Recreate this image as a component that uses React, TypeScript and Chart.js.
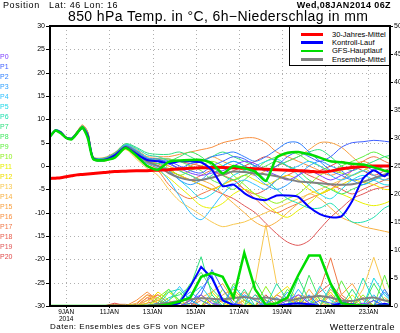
import React, { useEffect, useRef } from "react";
import { Chart, registerables } from "chart.js";

Chart.register(...registerables);

// forecast hours from 08JAN2014 06Z
const HOURS = [0, 6, 12, 18, 24, 30, 36, 42, 48, 60, 72, 84, 96, 108, 120, 132, 144, 156, 168, 180, 192, 204, 216, 228, 240, 252, 264, 276, 288, 300, 312, 324, 336, 348, 360, 372, 384];
const X_MIN = 0;
const X_MAX = 378;
const TICK_HOURS = [18, 66, 114, 162, 210, 258, 306, 354];
const TICK_LABELS = ["9JAN", "11JAN", "13JAN", "15JAN", "17JAN", "19JAN", "21JAN", "23JAN"];
const YEAR_LABEL = "2014";

const MEMBER_NAMES = ["P0", "P1", "P2", "P3", "P4", "P5", "P6", "P7", "P8", "P9", "P10", "P11", "P12", "P13", "P14", "P15", "P16", "P17", "P18", "P19", "P20"];
const MEMBER_COLORS = ["#7b3fff", "#3f5fff", "#2f7fff", "#2fa0ff", "#30c0ff", "#20d8e8", "#20e0b0", "#30e080", "#40e860", "#60f040", "#90f020", "#e8f000", "#f0e000", "#f8c850", "#f8b040", "#f8a040", "#f89040", "#f07848", "#e86050", "#e05858", "#e04848"];

const LEGEND_LABELS = ["30-Jahres-Mittel", "Kontroll-Lauf", "GFS-Hauptlauf", "Ensemble-Mittel"];
const CLIM_COLOR = "#ff0000";
const CTRL_COLOR = "#0000ff";
const GFS_COLOR = "#00dd00";
const MEAN_COLOR = "#808080";

// 850 hPa temperature (°C)
const CLIM_T = [-2.7, -2.6, -2.5, -2.3, -2.1, -1.9, -1.8, -1.7, -1.6, -1.4, -1.2, -1.1, -1.0, -1.0, -0.9, -0.8, -0.6, -0.5, -0.4, -0.3, -0.3, -0.4, -0.5, -0.6, -0.7, -0.8, -0.9, -1.0, -1.1, -1.3, -1.1, -0.6, -0.3, -0.1, 0.0, 0.0, 0.0];
const CTRL_T = [6.3, 7.6, 7.2, 6.0, 5.8, 7.0, 8.2, 6.5, 1.6, 1.3, 2.3, 4.0, 2.6, 1.3, 1.0, 0.6, 1.0, 1.0, 0.8, -0.8, -4.3, -4.0, -5.8, -7.0, -7.3, -6.3, -6.3, -6.6, -8.8, -10.3, -11.0, -10.8, -7.5, -2.7, -0.9, -2.2, 0.5];
const GFS_T = [6.3, 7.6, 7.0, 6.0, 5.7, 7.0, 8.3, 6.0, 1.5, 1.2, 1.8, 3.9, 2.2, 0.0, -0.8, 0.9, 1.2, 1.3, 1.3, 0.6, -1.6, 0.0, -0.5, -1.2, -3.2, 1.8, 2.8, 3.0, 2.5, 1.8, 1.0, 0.8, 0.5, 0.3, -0.3, -1.0, -1.4];
const MEAN_T = [6.3, 7.6, 7.2, 6.1, 5.9, 7.1, 8.3, 6.7, 1.7, 1.4, 2.4, 4.1, 2.8, 1.0, 0.0, -1.5, -2.5, -3.0, -3.0, -2.5, -1.8, -1.2, -1.3, -1.6, -1.8, -2.2, -2.8, -3.3, -3.5, -3.7, -3.9, -4.0, -3.9, -3.4, -2.6, -1.8, -1.3];

const P0_T = [6.3, 7.5, 7.1, 6.1, 5.9, 7.2, 8.4, 6.8, 1.5, 1.2, 2.4, 4.2, 2.9, 1.3, 1.0, 0.5, -0.5, -1.5, -2.0, -1.5, -1.0, 0.0, 1.0, 0.5, -1.0, -2.0, -3.0, -2.0, -1.0, -2.0, -3.0, -2.0, -1.0, 0.0, -1.0, -2.0, -1.5];
const P1_T = [6.3, 7.7, 7.3, 6.0, 5.7, 6.9, 8.1, 6.3, 1.7, 1.4, 2.2, 3.8, 2.5, 1.2, 1.2, 1.0, 0.0, -1.0, -1.5, 0.0, 1.0, 2.0, 1.5, 0.0, -1.0, 0.0, 2.0, 3.0, 2.0, 1.0, 2.0, 4.0, 5.0, 5.2, 5.5, 5.3, 5.0];
const P2_T = [6.3, 7.6, 7.2, 6.2, 6.0, 7.1, 8.3, 6.6, 1.8, 1.5, 2.5, 4.3, 3.2, 1.6, 1.5, 0.5, -0.5, 0.5, 1.0, 2.0, 2.5, 3.0, 2.0, 1.0, 2.0, 3.5, 5.0, 5.0, 3.0, 1.0, -1.0, -2.0, -3.0, -2.5, -1.0, 0.0, 0.5];
const P3_T = [6.3, 7.5, 7.0, 5.9, 5.8, 7.0, 8.0, 6.4, 1.5, 1.1, 2.1, 3.9, 2.4, 0.5, 0.0, -1.0, -3.0, -4.0, -3.0, -1.0, 0.0, 1.0, 0.0, -2.0, -4.0, -5.0, -4.0, -2.0, 0.0, 1.0, 0.0, -1.0, -3.0, -4.0, -3.0, -2.0, -2.5];
const P4_T = [6.3, 7.6, 7.2, 6.1, 5.9, 7.2, 8.5, 6.9, 1.9, 1.6, 2.6, 4.4, 3.0, 1.1, -0.5, -3.0, -6.5, -10.0, -11.5, -9.0, -6.0, -4.0, -3.0, -4.0, -5.0, -3.0, -1.0, 0.0, 1.0, 0.0, -2.0, -3.0, -2.0, -1.0, -2.0, -3.0, -2.0];
const P5_T = [6.3, 7.8, 7.4, 6.2, 6.1, 7.3, 8.6, 7.0, 1.7, 1.3, 2.4, 4.5, 3.4, 1.8, 1.0, -1.0, -3.0, -5.0, -7.0, -6.0, -4.0, -2.0, -1.0, 0.0, 1.0, 1.5, 0.0, -2.0, -4.0, -6.0, -7.0, -5.0, -3.0, -2.0, -3.0, -4.0, -4.0];
const P6_T = [6.3, 7.6, 7.1, 6.0, 5.8, 7.0, 8.2, 6.5, 1.6, 1.4, 2.5, 4.6, 3.8, 2.4, 2.0, 1.0, -1.0, -2.0, -3.0, -2.0, 0.0, 1.0, 0.0, -1.0, -3.0, -5.0, -7.0, -8.0, -9.0, -9.0, -8.0, -10.0, -12.0, -12.0, -11.0, -9.0, -8.0];
const P7_T = [6.3, 7.7, 7.3, 6.1, 5.9, 7.1, 8.3, 6.7, 1.9, 1.7, 2.8, 4.8, 4.0, 2.8, 2.5, 2.5, 3.0, 2.0, 1.0, 2.0, 3.0, 2.0, 1.0, 0.0, -1.0, 0.0, 1.0, 2.0, 3.0, 3.5, 2.0, 0.0, -1.0, 0.0, 1.0, 2.0, 2.5];
const P8_T = [6.3, 7.5, 7.2, 6.0, 5.7, 6.9, 8.0, 6.2, 1.4, 1.1, 2.0, 3.7, 2.2, 1.0, 0.5, 1.0, 2.0, 3.0, 2.0, 0.0, -2.0, -3.0, -2.0, -1.0, 0.0, 1.0, 0.0, -1.0, -3.0, -4.0, -5.0, -6.0, -5.0, -4.0, -3.0, -2.0, -1.0];
const P9_T = [6.3, 7.6, 7.3, 6.1, 6.0, 7.2, 8.4, 6.8, 1.8, 1.5, 2.6, 4.3, 3.1, 1.5, 1.5, 1.5, 1.0, 0.0, -1.0, -3.0, -4.0, -5.0, -3.0, -1.0, 1.0, 2.0, 3.0, 2.5, 1.0, 0.0, -1.0, 0.0, 1.0, 2.0, 3.0, 2.0, 1.0];
const P10_T = [6.3, 7.4, 7.0, 5.9, 5.7, 6.8, 7.9, 6.1, 1.5, 1.2, 2.2, 3.9, 2.6, 0.8, 0.0, -0.5, -2.0, -1.0, 0.0, 1.0, 0.0, -2.0, -4.0, -6.0, -7.0, -8.0, -7.0, -6.0, -4.0, -2.0, -1.0, -1.5, -2.0, -1.0, 0.0, -1.0, -2.0];
const P11_T = [6.3, 7.5, 7.1, 6.0, 5.8, 7.0, 8.1, 6.4, 1.6, 1.2, 2.1, 3.6, 1.8, 0.2, -1.0, -2.5, -4.5, -6.5, -8.5, -9.0, -8.0, -6.0, -5.0, -6.0, -8.0, -10.0, -11.0, -9.5, -8.0, -6.0, -5.0, -6.0, -7.0, -8.0, -8.5, -8.0, -7.0];
const P12_T = [6.3, 7.6, 7.2, 6.1, 5.9, 7.1, 8.2, 6.6, 1.7, 1.4, 2.4, 4.1, 2.7, 0.9, 0.0, -1.0, -2.0, -3.0, -4.0, -5.0, -4.0, -3.0, -2.0, -3.0, -4.0, -3.0, -2.0, -3.0, -5.0, -6.0, -5.0, -4.0, -3.0, -3.5, -4.0, -5.0, -5.0];
const P13_T = [6.3, 7.7, 7.2, 6.0, 5.8, 7.0, 8.3, 6.6, 1.5, 1.0, 1.9, 3.5, 1.5, -0.5, -2.0, -5.0, -7.5, -9.0, -10.5, -12.0, -13.0, -12.5, -12.0, -11.0, -10.0, -9.0, -8.0, -7.0, -6.0, -5.0, -4.0, -3.0, -2.0, -1.0, 0.0, 0.0, -0.5];
const P14_T = [6.3, 7.6, 7.3, 6.2, 6.0, 7.3, 8.7, 7.2, 1.8, 1.4, 2.5, 4.2, 2.8, 1.2, 0.5, 0.0, -1.0, -2.0, -3.0, -4.0, -6.0, -8.0, -10.0, -12.0, -13.0, -12.0, -10.0, -8.0, -6.0, -7.0, -9.0, -11.0, -12.0, -13.0, -13.5, -14.0, -14.5];
const P15_T = [6.3, 7.5, 7.1, 6.0, 5.8, 7.1, 8.4, 6.8, 1.6, 1.3, 2.3, 4.0, 2.9, 1.4, 1.5, 0.0, -1.0, 0.0, 1.0, 2.0, 1.0, 0.0, -1.0, -2.0, -1.0, 0.0, 1.0, 2.0, 3.5, 5.0, 5.0, 4.0, 2.0, 0.0, -2.0, -3.0, -3.0];
const P16_T = [6.3, 7.7, 7.4, 6.2, 6.1, 7.4, 8.8, 7.3, 2.0, 1.8, 2.9, 4.7, 3.6, 2.0, 2.0, 2.0, 2.5, 3.0, 3.5, 4.0, 5.0, 5.5, 6.0, 6.0, 5.0, 3.0, 2.0, 1.0, 0.0, -1.0, -2.0, -1.0, 0.0, 1.0, 0.0, -1.0, -2.0];
const P17_T = [6.3, 7.6, 7.2, 6.1, 5.9, 7.2, 8.6, 7.0, 1.7, 1.3, 2.2, 3.8, 2.0, 0.0, -1.0, -4.0, -6.0, -7.0, -6.0, -5.0, -4.0, -3.0, -5.0, -7.0, -9.0, -10.0, -9.0, -8.0, -7.0, -6.0, -5.0, -3.0, -1.0, 1.0, 2.0, 1.0, 0.0];
const P18_T = [6.3, 7.5, 7.1, 6.0, 5.8, 7.1, 8.5, 6.9, 1.6, 1.2, 2.3, 4.0, 2.5, 0.6, -0.5, -1.0, -2.0, -3.0, -2.0, -1.0, -2.0, -3.0, -5.0, -6.0, -5.0, -3.0, -2.0, -1.0, -2.0, -3.0, -4.0, -5.0, -6.0, -5.0, -4.0, -3.0, -2.0];
const P19_T = [6.3, 7.6, 7.2, 6.1, 5.9, 7.2, 8.6, 7.1, 1.8, 1.5, 2.5, 4.4, 3.0, 1.0, 0.5, -1.0, -2.0, -3.0, -4.0, -5.0, -6.0, -7.0, -8.5, -10.0, -12.3, -14.5, -16.3, -17.0, -16.0, -13.5, -11.0, -9.0, -7.0, -6.0, -5.0, -4.5, -4.0];
const P20_T = [6.3, 7.6, 7.3, 6.1, 6.0, 7.3, 8.7, 7.2, 1.9, 1.6, 2.7, 4.5, 3.3, 1.7, 1.5, 1.5, 1.0, 0.5, 0.0, -1.0, -2.0, -1.0, 0.0, 1.0, 2.0, 1.0, 0.0, -1.0, -1.5, -1.0, 0.0, 1.0, 0.0, -1.0, -2.0, -1.0, 0.0];

// 6h precipitation (mm)
const CTRL_P = [0, 0, 0, 0, 0, 0, 0, 0, 0, 0, 0, 0, 0, 0, 0, 0, 0.5, 3.5, 7.0, 5.0, 1.0, 0.2, 0, 0, 0, 0, 0.3, 0.5, 0.3, 0, 0, 0.5, 0.3, 0, 0, 0.4, 0];
const GFS_P = [0, 0, 0, 0, 0, 0, 0, 0, 0, 0, 0, 0, 0, 0, 0, 0.3, 0.8, 1.5, 5.2, 5.9, 5.2, 1.5, 9.5, 3.0, 0.2, 0.5, 1.5, 5.5, 9.0, 9.0, 4.0, 0.5, 0.2, 0.1, 0, 0, 0];
const MEAN_P = [0, 0, 0, 0, 0, 0, 0, 0, 0, 0, 0, 0, 0, 0.1, 0.3, 0.6, 0.9, 1.2, 1.4, 1.3, 1.2, 1.4, 1.6, 1.3, 1.5, 1.2, 1.0, 1.3, 1.6, 1.8, 1.5, 1.0, 0.9, 1.3, 1.5, 1.0, 0.8];

const P0_P = [0, 0, 0, 0, 0, 0, 0, 0, 0, 0, 0, 0, 0, 0, 0, 0, 0, 1, 2, 0.5, 0, 0, 0, 0, 0, 0, 1, 2, 0.5, 0, 0, 0, 0, 0.5, 0, 0, 0];
const P1_P = [0, 0, 0, 0, 0, 0, 0, 0, 0, 0, 0, 0, 0, 0, 0, 0, 0, 0, 2, 6.5, 3, 0.5, 0, 0, 0, 0, 0, 0, 0, 1, 0.5, 0, 0, 0, 1, 0, 0];
const P2_P = [0, 0, 0, 0, 0, 0, 0, 0, 0, 0, 0, 0, 0, 0, 0, 0, 0, 0.5, 3, 5.5, 1, 0, 0, 0, 0.5, 1.5, 0, 0, 2, 0, 0, 0, 0, 0, 0, 3, 0];
const P3_P = [0, 0, 0, 0, 0, 0, 0, 0, 0, 0, 0, 0, 0, 0, 0.5, 0, 1, 2.5, 1, 0, 0, 0, 2, 1, 0, 0, 2.5, 0, 0, 0, 0, 1, 0, 0, 0, 2.5, 0];
const P4_P = [0, 0, 0, 0, 0, 0, 0, 0, 0, 0, 0, 0, 0, 0, 0, 1, 3.5, 1, 0, 0, 0, 3.5, 1.5, 0, 0, 0, 0, 3, 0.5, 0, 0, 0, 0, 0, 2, 0, 0];
const P5_P = [0, 0, 0, 0, 0, 0, 0, 0, 0, 0, 0, 0, 0, 0, 0, 0, 0.5, 2, 3.5, 1, 0, 0, 0, 2, 0, 0, 0, 0, 0, 3.5, 1, 0, 0, 0, 5, 2, 0];
const P6_P = [0, 0, 0, 0, 0, 0, 0, 0, 0, 0, 0, 0, 0, 0, 0, 2.5, 3, 1, 0, 0, 1.5, 0, 0, 0, 0, 4, 1, 0, 0, 0, 3.5, 0, 0, 5, 1, 0, 0];
const P7_P = [0, 0, 0, 0, 0, 0, 0, 0, 0, 0, 0, 0, 0, 0, 0, 1.5, 2, 3.5, 8.8, 2, 0, 0, 3, 0, 0, 0, 0, 5, 1, 0, 0, 0, 3, 0, 0, 0, 0];
const P8_P = [0, 0, 0, 0, 0, 0, 0, 0, 0, 0, 0, 0, 0, 0, 0.5, 3, 1, 4, 6, 3, 1, 0, 0, 4.5, 1, 0, 0, 0, 5.5, 1, 0, 0, 0, 0, 4, 1, 0];
const P9_P = [0, 0, 0, 0, 0, 0, 0, 0, 0, 0, 0, 0, 0, 0, 0, 1, 2.5, 0, 0, 2, 0, 4, 1, 0, 0, 0, 3, 0.5, 0, 0, 0, 4.5, 1, 0, 0, 5.5, 0];
const P10_P = [0, 0, 0, 0, 0, 0, 0, 0, 0, 0, 0, 0, 0, 0, 1.5, 3, 0.5, 0, 0, 0, 3, 0, 0, 0, 3.5, 0.5, 0, 0, 0, 2, 0, 0, 0, 2, 0, 0, 0];
const P11_P = [0, 0, 0, 0, 0, 0, 0, 0, 0, 0, 0, 0, 0, 0, 1, 2.5, 1, 0, 2, 0, 0, 2.5, 0.5, 0, 0, 0, 0, 1.5, 0, 0, 2.5, 0, 0, 0, 0, 0, 0];
const P12_P = [0, 0, 0, 0, 0, 0, 0, 0, 0, 0, 0, 0, 0, 0.5, 2.5, 1, 0, 0, 0, 2.5, 0.5, 0, 0, 0, 0, 2, 3.5, 1, 0, 0, 0, 0, 2, 0, 0, 0, 0];
const P13_P = [0, 0, 0, 0, 0, 0, 0, 0, 0, 0, 0, 0, 0, 1, 1.5, 0, 0, 0, 0, 0, 0, 0, 1, 4, 14.5, 4, 1, 0, 0, 1.5, 0, 0, 0, 3, 8.7, 3, 0];
const P14_P = [0, 0, 0, 0, 0, 0, 0, 0, 0, 0, 0, 0, 0.5, 2, 0.5, 0, 0, 0, 1.5, 2.5, 4, 1, 0, 2, 0, 0, 0, 0, 3, 0.5, 0, 0, 0, 0, 0, 1.5, 0];
const P15_P = [0, 0, 0, 0, 0, 0, 0, 0, 0, 0, 0, 0, 0, 1.5, 2, 0.5, 0, 1, 0, 0, 2, 3, 1, 0, 0, 0, 1.5, 0, 0, 0, 0, 2, 4, 1, 0, 0, 0];
const P16_P = [0, 0, 0, 0, 0, 0, 0, 0, 0, 0, 0, 0, 1, 2.5, 1, 0, 0, 0, 0, 1, 0, 2, 0, 0, 1, 0, 0, 2, 1.5, 0, 3, 1, 0, 0, 0, 0, 0];
const P17_P = [0, 0, 0, 0, 0, 0, 0, 0, 0, 0, 0, 0, 0.3, 2, 1.5, 0, 0, 0, 1, 0, 0, 0, 2.5, 1, 0, 0, 0, 0, 0, 3, 8.6, 2, 0.5, 0, 0, 0, 0];
const P18_P = [0, 0, 0, 0, 0, 0, 0, 0, 0, 0, 0.3, 0.3, 0, 1.5, 0.5, 0, 0, 0, 0, 1, 0, 0, 0, 2, 1, 0, 0, 0, 1, 2.5, 4, 1.5, 0, 0, 1, 0, 0];
const P19_P = [0, 0, 0, 0, 0, 0, 0, 0, 0, 0, 0, 0, 0, 0.5, 1, 0, 0, 0.5, 0, 0, 0, 0, 1, 0, 0, 2, 1, 0, 0, 0, 2, 0, 0, 1.5, 0, 0, 0];
const P20_P = [0, 0, 0, 0, 0, 0, 0, 0, 0, 0, 0.5, 0, 0, 1, 2, 0.5, 0, 0, 0, 0, 1, 0, 0, 0, 2, 0, 0, 1, 0, 0, 0, 1.5, 0, 0, 0, 0, 0];

const MEMBER_T = [P0_T, P1_T, P2_T, P3_T, P4_T, P5_T, P6_T, P7_T, P8_T, P9_T, P10_T, P11_T, P12_T, P13_T, P14_T, P15_T, P16_T, P17_T, P18_T, P19_T, P20_T];
const MEMBER_P = [P0_P, P1_P, P2_P, P3_P, P4_P, P5_P, P6_P, P7_P, P8_P, P9_P, P10_P, P11_P, P12_P, P13_P, P14_P, P15_P, P16_P, P17_P, P18_P, P19_P, P20_P];

const FONT = "'Liberation Sans', Arial, sans-serif";

const toPts = (arr: number[]) => HOURS.map((h, i) => ({ x: h, y: arr[i] }));

const framePlugin = {
  id: "frame",
  beforeDatasetsDraw(chart: any) {
    const { ctx, chartArea, scales } = chart;
    const { left, right, top, bottom } = chartArea;
    ctx.save();
    ctx.strokeStyle = "#b0b0b0";
    ctx.lineWidth = 1;
    ctx.setLineDash([1, 3]);
    ctx.beginPath();
    for (const h of TICK_HOURS) {
      const x = Math.round(scales.x.getPixelForValue(h)) + 0.5;
      ctx.moveTo(x, top);
      ctx.lineTo(x, bottom);
    }
    for (const t of scales.y.ticks) {
      if (t.value <= scales.y.min || t.value >= scales.y.max) continue;
      const y = Math.round(scales.y.getPixelForValue(t.value)) + 0.5;
      ctx.moveTo(left, y);
      ctx.lineTo(right, y);
    }
    ctx.stroke();
    ctx.restore();
  },
  afterDatasetsDraw(chart: any) {
    const { ctx, chartArea, scales } = chart;
    const { left, right, top, bottom } = chartArea;
    ctx.save();
    ctx.strokeStyle = "#000";
    ctx.lineWidth = 1;
    ctx.beginPath();
    for (const t of scales.y.ticks) {
      const y = Math.round(scales.y.getPixelForValue(t.value)) + 0.5;
      ctx.moveTo(left - 4, y);
      ctx.lineTo(left, y);
    }
    for (const t of scales.y2.ticks) {
      const y = Math.round(scales.y2.getPixelForValue(t.value)) + 0.5;
      ctx.moveTo(right, y);
      ctx.lineTo(right + 3, y);
    }
    for (const h of TICK_HOURS) {
      const x = Math.round(scales.x.getPixelForValue(h)) + 0.5;
      ctx.moveTo(x, bottom);
      ctx.lineTo(x, bottom + 2);
    }
    ctx.stroke();
    ctx.lineWidth = 2;
    ctx.strokeRect(left, top, right - left, bottom - top);
    ctx.restore();
  },
};

function Txt(props: { x: number; y: number; size: number; color?: string; bold?: boolean; align?: "left" | "right"; ls?: number; children: React.ReactNode }) {
  const { x, y, size, color = "#000", bold, align = "left", ls = 0, children } = props;
  const style: React.CSSProperties = {
    position: "absolute",
    top: y - size / 2,
    fontSize: size,
    lineHeight: `${size}px`,
    color,
    fontWeight: bold ? "bold" : "normal",
    letterSpacing: ls,
    whiteSpace: "nowrap",
    fontFamily: FONT,
  };
  if (align === "left") style.left = x;
  else style.right = 400 - x;
  return <div style={style}>{children}</div>;
}

export default function App() {
  const ref = useRef<HTMLCanvasElement>(null);

  useEffect(() => {
    const canvas = ref.current;
    if (!canvas) return;
    Chart.defaults.font.family = FONT;
    const datasets: any[] = [];
    const add = (arr: number[], axis: string, color: string, width: number, tension: number) => {
      datasets.push({
        type: "line",
        data: toPts(arr),
        yAxisID: axis,
        borderColor: color,
        backgroundColor: color,
        borderWidth: width,
        pointRadius: 0,
        tension,
        fill: false,
        clip: 0,
      });
    };
    add(GFS_T, "y", GFS_COLOR, 2.5, 0.2);
    add(GFS_P, "y2", GFS_COLOR, 2.5, 0);
    add(CTRL_T, "y", CTRL_COLOR, 2, 0.2);
    add(CTRL_P, "y2", CTRL_COLOR, 2, 0);
    add(CLIM_T, "y", CLIM_COLOR, 3, 0.3);
    add(MEAN_T, "y", MEAN_COLOR, 2, 0.3);
    add(MEAN_P, "y2", MEAN_COLOR, 2, 0.2);
    MEMBER_T.forEach((arr, i) => add(arr, "y", MEMBER_COLORS[i], 1, 0.3));
    MEMBER_P.forEach((arr, i) => add(arr, "y2", MEMBER_COLORS[i], 1, 0));

    const chart = new Chart(canvas, {
      type: "line",
      data: { datasets },
      options: {
        animation: false,
        responsive: false,
        devicePixelRatio: 1,
        events: [],
        layout: { padding: { top: 26, left: 0, right: 0, bottom: 0 } },
        plugins: { legend: { display: false }, tooltip: { enabled: false } },
        scales: {
          x: {
            type: "linear",
            min: X_MIN,
            max: X_MAX,
            afterBuildTicks: (s: any) => {
              s.ticks = TICK_HOURS.map((v) => ({ value: v }));
            },
            afterFit: (s: any) => {
              s.height = 27;
            },
            grid: { display: false, drawTicks: true, tickLength: 2 },
            border: { display: false },
            ticks: {
              autoSkip: false,
              maxRotation: 0,
              padding: 0,
              color: "#000",
              font: { size: 6.5, lineHeight: 1.15 },
              callback: (v: any) => {
                const i = TICK_HOURS.indexOf(Number(v));
                return i === 0 ? [TICK_LABELS[0], YEAR_LABEL] : TICK_LABELS[i];
              },
            },
          },
          y: {
            position: "left",
            min: -30,
            max: 30,
            ticks: { stepSize: 5, color: "#000", font: { size: 7 }, padding: 1 },
            grid: { display: false, drawTicks: true, tickLength: 4 },
            border: { display: false },
            afterFit: (s: any) => {
              s.width = 50;
            },
          },
          y2: {
            position: "right",
            min: 0,
            max: 50,
            ticks: { stepSize: 5, color: "#000", font: { size: 7 }, padding: 1 },
            grid: { display: false, drawTicks: true, tickLength: 3 },
            border: { display: false },
            afterFit: (s: any) => {
              s.width = 10;
            },
          },
        },
      } as any,
      plugins: [framePlugin],
    });
    return () => chart.destroy();
  }, []);

  const legendColors = [CLIM_COLOR, CTRL_COLOR, GFS_COLOR, MEAN_COLOR];

  return (
    <div style={{ position: "absolute", left: 0, top: 0, width: 400, height: 333, background: "#fff", overflow: "hidden", fontFamily: FONT }}>
      <canvas ref={ref} width={400} height={333} style={{ position: "absolute", left: 0, top: 0, width: 400, height: 333 }} />
      <Txt x={3} y={5} size={9} ls={0.6}>Position&nbsp;&nbsp; Lat: 46 Lon: 16</Txt>
      <Txt x={391} y={5} size={9} bold align="right" ls={0.4}>Wed,08JAN2014 06Z</Txt>
      <Txt x={68} y={16} size={14} ls={0.4}>850 hPa Temp. in °C, 6h−Niederschlag in mm</Txt>
      {MEMBER_NAMES.map((n, i) => (
        <Txt key={n} x={0} y={56 + i * 10} size={7} color={MEMBER_COLORS[i]}>{n}</Txt>
      ))}
      <div style={{ position: "absolute", left: 289, top: 27, width: 100, height: 39, background: "#fff", borderLeft: "1px solid #000", borderBottom: "1px solid #000", boxSizing: "border-box" }}>
        {LEGEND_LABELS.map((l, i) => (
          <React.Fragment key={l}>
            <div style={{ position: "absolute", left: 11, top: 6 + i * 8.4, width: 22, height: 2.5, background: legendColors[i] }} />
            <div style={{ position: "absolute", left: 42, top: 3.5 + i * 8.4, fontSize: 7.5, lineHeight: "8px", whiteSpace: "nowrap", fontFamily: FONT, color: "#000" }}>{l}</div>
          </React.Fragment>
        ))}
      </div>
      <Txt x={50} y={327} size={8} ls={0.5}>Daten: Ensembles des GFS von NCEP</Txt>
      <Txt x={395} y={327} size={9} align="right" ls={0.5}>Wetterzentrale</Txt>
    </div>
  );
}
